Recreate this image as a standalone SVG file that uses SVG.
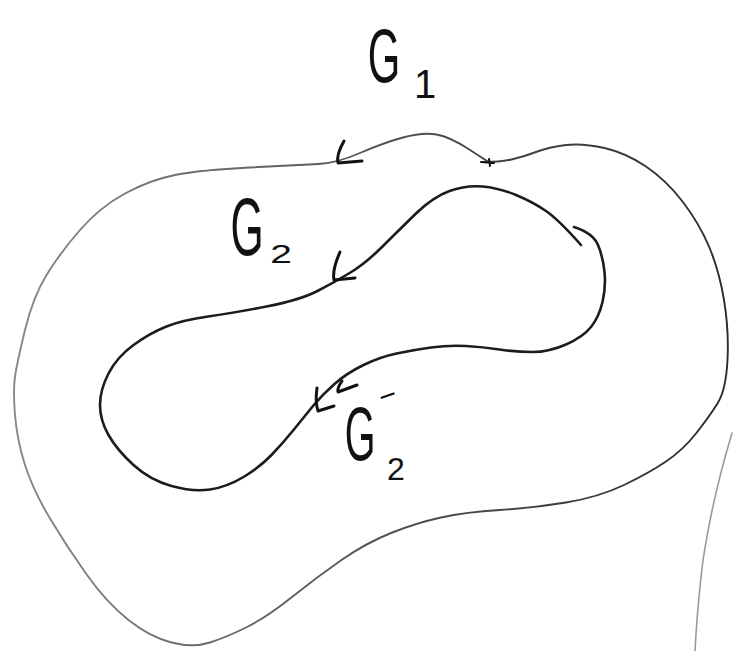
<svg xmlns="http://www.w3.org/2000/svg" width="733" height="651" viewBox="0 0 733 651">
<defs>
<linearGradient id="outerGrad" gradientUnits="userSpaceOnUse" x1="0" y1="0" x2="733" y2="0">
<stop offset="0" stop-color="#8a8a8a"/>
<stop offset="0.5" stop-color="#555"/>
<stop offset="1" stop-color="#2a2a2a"/>
</linearGradient>
</defs>
<style>
.outer{fill:none;stroke:url(#outerGrad);stroke-width:1.9;stroke-linecap:round;stroke-linejoin:round}
.inner{fill:none;stroke:#1c1c1c;stroke-width:2.6;stroke-linecap:round;stroke-linejoin:round}
.arrow{fill:none;stroke:#111;stroke-width:3;stroke-linecap:round;stroke-linejoin:round}
.edge{fill:none;stroke:#9a9a9a;stroke-width:1.6;stroke-linecap:round}
.lbl{font-family:"Liberation Sans","DejaVu Sans",sans-serif;fill:#111}
</style>
<rect width="733" height="651" fill="#ffffff"/>

<g id="curve-G1">
<path class="outer" d="M 483,162 Q 500,162 511.5,159.5 Q 523,157 536,152 Q 549,147 566,145 Q 583,143 604.5,148 Q 626,153 646,166.5 Q 666,180 682.5,201.5 Q 699,223 709,246.5 Q 719,270 724,300 Q 729,330 727.5,360 Q 726,390 717.5,403.5 Q 709,417 696,433.5 Q 683,450 666,461.5 Q 649,473 624,485 Q 599,497 566,502.5 Q 533,508 499.5,510 Q 466,512 441,517.5 Q 416,523 391,533 Q 366,543 341.5,560 Q 317,577 292,597 Q 267,617 247,627 Q 227,637 210,642.5 Q 193,648 171.5,642.5 Q 150,637 128.5,620 Q 107,603 87,575 Q 67,547 50,518.5 Q 33,490 25,465 Q 17,440 15,415 Q 13,390 15,376.5 Q 17,363 25,330 Q 33,297 46.5,275 Q 60,253 80,230 Q 100,207 125,193.5 Q 150,180 175,175 Q 200,170 250,167.5 Q 300,165 318.5,164 Q 337,163 360,153 Q 383,143 403,137.5 Q 423,132 436.5,134.5 Q 450,137 468.5,149 L 487,161"/>
<path class="arrow" style="stroke-width:2" d="M 481,162 L 494,163 M 489,159 L 490,166"/>
<path class="arrow" d="M 344,141 Q 336,155 338,163 L 362,161"/>
</g>

<g id="curve-G2">
<path class="inner" d="M 581,245 Q 559,220 546,211 Q 533,202 516,195 Q 499,188 482.5,186.5 Q 466,185 449.5,191 Q 433,197 416,213.5 Q 399,230 382.5,246.5 Q 366,263 350.5,272.5 Q 335,282 317.5,291 Q 300,300 266.5,306.5 Q 233,313 208,316.5 Q 183,320 166.5,326.5 Q 150,333 133.5,345 Q 117,357 108.5,373.5 Q 100,390 100,405 Q 100,420 108.5,435 Q 117,450 133.5,465 Q 150,480 171.5,486 Q 193,492 210,489.5 Q 227,487 243.5,477 Q 260,467 271.5,455 Q 283,443 293.5,430 Q 304,417 313,406 Q 322,395 334.5,384 Q 347,373 363.5,365 Q 380,357 396.5,353.5 Q 413,350 431,347.5 Q 449,345 466,346 Q 483,347 499.5,349.5 Q 516,352 532.5,352 Q 549,352 566,344.5 Q 583,337 591,327 Q 599,317 602.5,302 Q 606,287 604.5,272 Q 603,257 598,245 Q 593,233 574,227"/>
<path class="arrow" d="M 340,252 Q 332,270 334,280 L 355,278"/>
<path class="arrow" d="M 317,388 Q 315,402 318,411 L 334,406"/>
<path class="arrow" d="M 342,381 Q 337,388 338,392 L 357,385"/>
</g>

<g id="edge">
<path class="edge" d="M 732,433 Q 712,500 703,560 Q 697,610 695,651"/>
</g>

<g id="labels">
<text class="lbl" transform="translate(384,82) scale(0.55,1)" text-anchor="middle" font-size="76">G</text>
<text class="lbl" x="425" y="98" text-anchor="middle" font-size="40">1</text>
<text class="lbl" transform="translate(247,255) scale(0.52,1)" text-anchor="middle" font-size="82">G</text>
<text class="lbl" transform="translate(281,263) scale(1.5,1)" text-anchor="middle" font-size="26">2</text>
<text class="lbl" transform="translate(360,460) scale(0.52,1)" text-anchor="middle" font-size="76">G</text>
<text class="lbl" x="396" y="480" text-anchor="middle" font-size="32">2</text>
<text class="lbl" transform="translate(391,405) rotate(-20)" text-anchor="middle" font-size="30">−</text>
</g>
</svg>
